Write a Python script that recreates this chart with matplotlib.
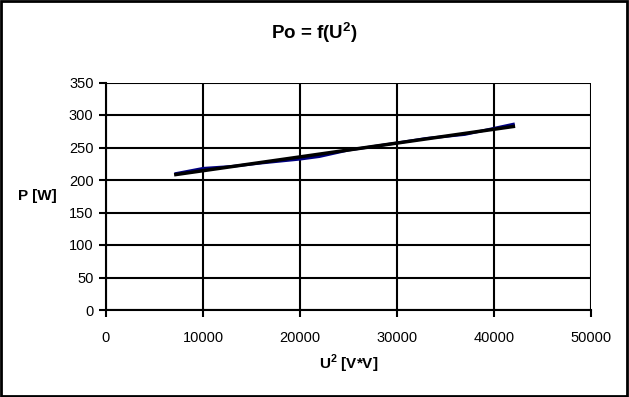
import numpy as np
import matplotlib
matplotlib.use("Agg")
import matplotlib.pyplot as plt

plt.rcParams['font.family'] = ['Liberation Sans', 'DejaVu Sans']
plt.rcParams['mathtext.fontset'] = 'custom'
plt.rcParams['mathtext.rm'] = 'Liberation Sans'
plt.rcParams['mathtext.bf'] = 'Liberation Sans:bold'

# measured points (U^2 in V*V, P in W)
u2 = [7200, 10000, 13000, 16000, 20000, 22000, 25000, 30000, 33000, 37000, 42000]
p = [210, 218, 221, 226, 232, 236, 246, 257, 264, 270, 286]

fig = plt.figure(figsize=(6.29, 3.97), dpi=100)
ax = fig.add_axes([106 / 629, 87 / 397, 485 / 629, 227.5 / 397])

ax.plot(u2, p, color='#000080', linewidth=2)

# linear trend
k, b = np.polyfit(u2, p, 1)
xt = np.array([min(u2), max(u2)])
ax.plot(xt, k * xt + b, color='black', linewidth=2.5)

ax.set_xlim(0, 50000)
ax.set_ylim(0, 350)
ax.set_xticks(np.arange(0, 50001, 10000))
ax.set_yticks(np.arange(0, 351, 50))
ax.grid(True, color='black', linewidth=1.5)
ax.set_axisbelow(True)
for s in ['top', 'right']:
    ax.spines[s].set_visible(False)
for s in ['left', 'bottom']:
    ax.spines[s].set_linewidth(1.5)
ax.tick_params(length=5, width=1.5, labelsize=10.5, pad=4)
ax.tick_params(axis='x', pad=10)

ax.set_xlabel(r'U$^\mathbf{2}$ [V*V]', fontsize=11, fontweight='bold', labelpad=6)
ax.set_ylabel('P [W]', fontsize=11, fontweight='bold', rotation=0, labelpad=23, va='center')
fig.text(0.5, 1 - 33 / 397, r'Po = f(U$^\mathbf{2}$)', ha='center', va='center',
         fontsize=13.5, fontweight='bold')

fig.patches.append(plt.Rectangle((0.002, 0.003), 0.995, 0.994, transform=fig.transFigure,
                                 fill=False, edgecolor='black', linewidth=2))

fig.savefig('out.png', dpi=100)
